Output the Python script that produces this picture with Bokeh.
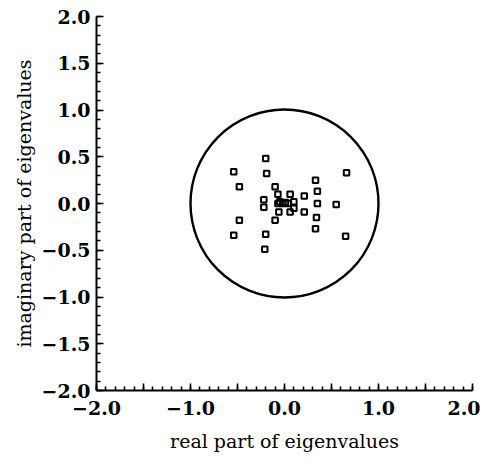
from bokeh.plotting import figure
from bokeh.models import Range1d, FixedTicker
from bokeh.embed import file_html
from bokeh.resources import INLINE

# eigenvalues (real, imaginary)
eig_re = [-0.20, -0.54, -0.19, -0.48, -0.10, -0.07, -0.22, -0.22, -0.07, -0.05,
          -0.02, 0.01, 0.04, 0.06, 0.10, 0.10, 0.06, 0.21, 0.21, 0.33,
          0.35, 0.35, 0.34, 0.33, 0.55, 0.66, 0.65, -0.06, -0.10, -0.48,
          -0.54, -0.20, -0.21]
eig_im = [0.48, 0.34, 0.32, 0.18, 0.18, 0.10, 0.04, -0.04, 0.00, 0.02,
          0.00, 0.01, 0.00, 0.10, 0.02, -0.05, -0.09, 0.08, -0.09, 0.25,
          0.13, 0.00, -0.15, -0.27, -0.01, 0.33, -0.35, -0.09, -0.18, -0.18,
          -0.34, -0.33, -0.49]

circle_center = (0.0, 0.0)
circle_radius = 1.0

x_major = [-2.0, -1.5, -1.0, -0.5, 0.0, 0.5, 1.0, 1.5, 2.0]
x_labels = {-2.0: "\u22122.0", -1.5: "", -1.0: "\u22121.0", -0.5: "", 0.0: "0.0",
            0.5: "", 1.0: "1.0", 1.5: "", 2.0: "2.0"}
y_major = [-2.0, -1.5, -1.0, -0.5, 0.0, 0.5, 1.0, 1.5, 2.0]
y_labels = {-2.0: "\u22122.0", -1.5: "\u22121.5", -1.0: "\u22121.0", -0.5: "\u22120.5",
            0.0: "0.0", 0.5: "0.5", 1.0: "1.0", 1.5: "1.5", 2.0: "2.0"}
minor = [round(-2.0 + 0.1 * i, 1) for i in range(41)]

p = figure(width=480, height=454, output_backend="svg", toolbar_location=None,
           x_range=Range1d(-2, 2), y_range=Range1d(-2, 2),
           min_border_left=96, min_border_right=8, min_border_top=16, min_border_bottom=61)
p.outline_line_color = None
p.grid.visible = False
p.background_fill_color = "white"

p.circle(x=[circle_center[0]], y=[circle_center[1]], radius=circle_radius,
         fill_color=None, line_color="black", line_width=2.4)
p.scatter(eig_re, eig_im, marker="square", size=5.5, fill_color=None,
          line_color="black", line_width=2)

for ax, ticks, labels in ((p.xaxis[0], x_major, x_labels), (p.yaxis[0], y_major, y_labels)):
    ax.ticker = FixedTicker(ticks=ticks, minor_ticks=minor)
    ax.major_label_overrides = labels
    ax.axis_line_width = 2
    ax.major_tick_in = 7
    ax.major_tick_out = 0
    ax.minor_tick_in = 4
    ax.minor_tick_out = 0
    ax.major_tick_line_width = 1.6
    ax.minor_tick_line_width = 1.6
    ax.major_label_text_font = "DejaVu Serif"
    ax.major_label_text_font_style = "bold"
    ax.major_label_text_font_size = "19px"
    ax.major_label_text_color = "black"
    ax.axis_label_text_font = "DejaVu Serif"
    ax.axis_label_text_font_style = "normal"
    ax.axis_label_text_font_size = "19px"
    ax.axis_label_text_color = "black"

p.xaxis.axis_label = "real part of eigenvalues"
p.yaxis.axis_label = "imaginary part of eigenvalues"
p.xaxis.major_label_standoff = 10
p.xaxis.axis_label_standoff = 12
p.yaxis.major_label_standoff = 6
p.yaxis.axis_label_standoff = 4

open("out.html", "w").write(file_html(p, INLINE))
